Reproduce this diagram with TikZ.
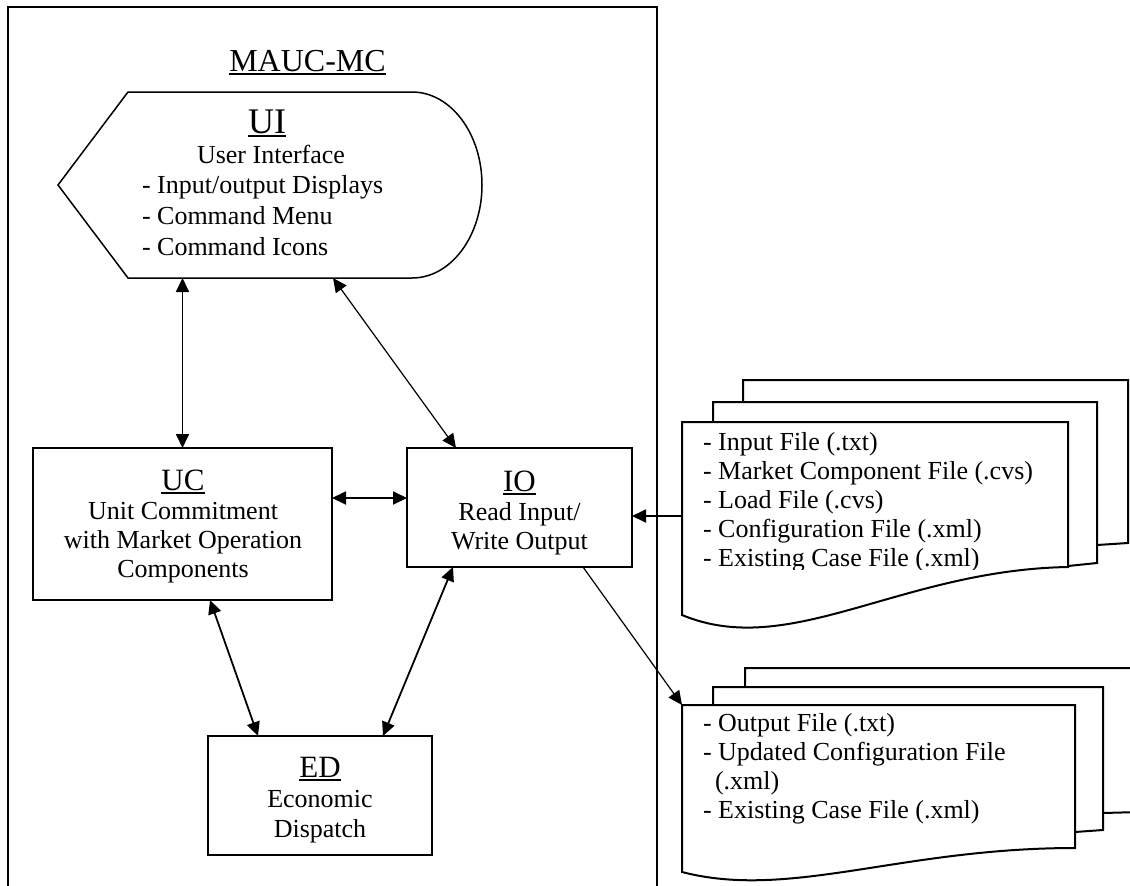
\documentclass[tikz,border=0pt]{standalone}
\usepackage{fontspec}
\setmainfont{Liberation Serif}
\usetikzlibrary{arrows.meta}
% underlined heading with a solid bar
\newcommand{\ulin}[1]{\leavevmode\setbox0=\hbox{#1}\rlap{\rule[-4pt]{\wd0}{1.8pt}}\box0}
\begin{document}
\begin{tikzpicture}[x=1pt,y=-1pt,
  every node/.style={inner sep=0pt,outer sep=0pt},
  box/.style={draw,line width=2.2pt,fill=white},
  hold/.style={},
  body/.style={anchor=base,font=\fontsize{26}{29}\selectfont},
  bodyl/.style={anchor=base west,font=\fontsize{26}{29}\selectfont},
  ttl/.style={anchor=base,font=\fontsize{31}{36}\selectfont},
  bigttl/.style={anchor=base,font=\fontsize{32}{36}\selectfont},
  uittl/.style={anchor=base,font=\fontsize{36}{40}\selectfont},
  frame/.style={line width=1.6pt},
  docline/.style={line width=2pt,fill=white,line join=miter},
  conn/.style={line width=1.8pt,{Triangle[length=14pt,width=13pt]}-{Triangle[length=14pt,width=13pt]}},
  thinconn/.style={line width=1.2pt,{Triangle[length=14pt,width=13pt]}-{Triangle[length=14pt,width=13pt]}},
  oneway/.style={line width=1.8pt,-{Triangle[length=14pt,width=13pt]}},
  thinoneway/.style={line width=1.2pt,-{Triangle[length=14pt,width=13pt]}}
]
\useasboundingbox (0,0) rectangle (1130,886);
\clip (0,0) rectangle (1130,886);

% MAUC-MC frame (open at the bottom)
\draw[frame] (8,900) -- (8,7) -- (657,7) -- (657,900);
\node[bigttl] (maucT) at (307.5,71) {\ulin{MAUC-MC}};

% UI display shape
\draw[line width=1.5pt,fill=white] (58,185) -- (128,92) -- (412,92)
  .. controls (451,92) and (482,134) .. (482,185)
  .. controls (482,236) and (451,278) .. (412,278) -- (128,278) -- cycle;
\node[hold,minimum width=424pt,minimum height=186pt] (ui) at (270,185) {};
\node[uittl] (uiT) at (267,133) {\ulin{UI}};
\node[body] (uiL1) at (271,163) {User Interface};
\node[bodyl] (uiL2) at (142,193) {- Input/output Displays};
\node[bodyl] (uiL3) at (142,224) {- Command Menu};
\node[bodyl] (uiL4) at (142,255) {- Command Icons};

% UC box
\node[box,minimum width=299pt,minimum height=152pt] (uc) at (182.5,524) {};
\node[ttl] (ucT) at (183,490) {\ulin{UC}};
\node[body] (ucL1) at (183,519.5) {Unit Commitment};
\node[body] (ucL2) at (183,548.5) {with Market Operation};
\node[body] (ucL3) at (183,577.5) {Components};

% IO box
\node[box,minimum width=225pt,minimum height=119pt] (io) at (519.5,507.5) {};
\node[ttl] (ioT) at (519.5,491) {\ulin{IO}};
\node[body] (ioL1) at (519.5,520) {Read Input/};
\node[body] (ioL2) at (519.5,549) {Write Output};

% ED box
\node[box,minimum width=224pt,minimum height=119pt] (ed) at (320,795.5) {};
\node[ttl] (edT) at (320,777) {\ulin{ED}};
\node[body] (edL1) at (320,807) {Economic};
\node[body] (edL2) at (320,837) {Dispatch};

% input file stack
\filldraw[docline] (743,380) -- (1128,380) -- (1128,543) -- (1097,545) -- (743,545) -- cycle;
\filldraw[docline] (713,402) -- (1097,402) -- (1097,563) -- (1068,566) -- (713,566) -- cycle;
\filldraw[docline] (682,422) -- (1068,422) -- (1068,567)
  .. controls (900,570) and (790,660) .. (682,615) -- cycle;
\node[hold,minimum width=386pt,minimum height=145pt] (docin) at (875,494.5) {};
\begin{scope}
  % the last entry is cut off by the page edge of the document
  \clip (682,422) rectangle (1068,569);
  \node[bodyl] (inL1) at (703,450) {- Input File (.txt)};
  \node[bodyl] (inL2) at (703,479) {- Market Component File (.cvs)};
  \node[bodyl] (inL3) at (703,508) {- Load File (.cvs)};
  \node[bodyl] (inL4) at (703,537) {- Configuration File (.xml)};
  \node[bodyl] (inL5) at (703,566) {- Existing Case File (.xml)};
\end{scope}

% output file stack
\filldraw[docline] (745,668) -- (1140,668) -- (1140,812) -- (1103,813) -- (745,813) -- cycle;
\filldraw[docline] (713,687) -- (1103,687) -- (1103,830) -- (1075,832) -- (713,832) -- cycle;
\filldraw[docline] (682,705) -- (1075,705) -- (1075,848)
  .. controls (900,848) and (790,900) .. (682,872) -- cycle;
\node[hold,minimum width=393pt,minimum height=143pt] (docout) at (878.5,776.5) {};
\node[bodyl] (outL1) at (703,731) {- Output File (.txt)};
\node[bodyl] (outL2) at (703,760) {- Updated Configuration File};
\node[bodyl] (outL3) at (715,789) {(.xml)};
\node[bodyl] (outL4) at (703,818) {- Existing Case File (.xml)};

% connectors
\draw[conn] (uc.north) -- (uc.north |- ui.south);
\draw[thinconn] ([xshift=63pt]ui.south) -- ([xshift=-63.5pt]io.north);
\draw[conn] ([yshift=26pt]uc.east) -- ([yshift=26pt]uc.east -| io.west);
\draw[conn] ([xshift=27.5pt]uc.south) -- ([xshift=-62pt]ed.north);
\draw[conn] ([xshift=-66.5pt]io.south) -- ([xshift=63pt]ed.north);
\draw[oneway] ([yshift=-8.5pt]io.east -| docin.west) -- ([yshift=-8.5pt]io.east);
\draw[thinoneway] ([xshift=63.5pt]io.south) -- (docout.north west);
\end{tikzpicture}
\end{document}
